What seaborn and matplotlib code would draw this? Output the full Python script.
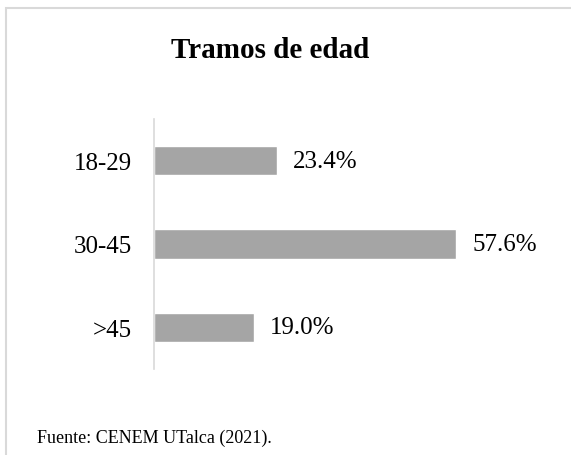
import matplotlib
matplotlib.use('Agg')
import matplotlib.pyplot as plt
import seaborn as sns
import pandas as pd
from matplotlib.patches import Rectangle

categories = ['18-29', '30-45', '>45']
values = [23.4, 57.6, 19.0]
title = 'Tramos de edad'
source = 'Fuente: CENEM UTalca (2021).'

sns.set_style("white")
plt.rcParams['font.family'] = ['Liberation Serif', 'DejaVu Serif']
plt.rcParams['text.color'] = 'black'
plt.rcParams['ytick.color'] = 'black'

df = pd.DataFrame({'tramo': categories, 'pct': values})

fig = plt.figure(figsize=(5.71, 4.56), dpi=100)
ax = fig.add_axes([154 / 571, 1 - 370 / 456, 406 / 571, 250 / 456])

sns.barplot(data=df, y='tramo', x='pct', color='#A5A5A5', saturation=1,
            width=0.35, ax=ax, orient='h')

ax.set_xlim(0, 406 / 5.25)
ax.set_ylim(2.5, -0.5)
ax.set_xlabel('')
ax.set_ylabel('')
ax.set_xticks([])
ax.tick_params(axis='y', length=0, pad=16, labelsize=18, labelcolor='black')
for side in ['top', 'right', 'bottom']:
    ax.spines[side].set_visible(False)
ax.spines['left'].set_color('#D9D9D9')
ax.spines['left'].set_linewidth(1.2)

for i, v in enumerate(values):
    ax.text(v + 3.0, i, f'{v:.1f}%', va='center', ha='left', fontsize=18,
            color='black')

fig.text(270 / 571, 1 - 58 / 456, title, ha='center', va='baseline',
         fontsize=21, fontweight='bold', color='black')
fig.text(37 / 571, 1 - 443 / 456, source, ha='left', va='baseline',
         fontsize=13, color='black')

# light frame around the chart area
fig.patches.append(Rectangle((6 / 571, -0.5), 1.2, 1.5 - 9 / 456,
                             transform=fig.transFigure, fill=False,
                             edgecolor='#D9D9D9', linewidth=1.5))

fig.savefig('out.png', dpi=100)
